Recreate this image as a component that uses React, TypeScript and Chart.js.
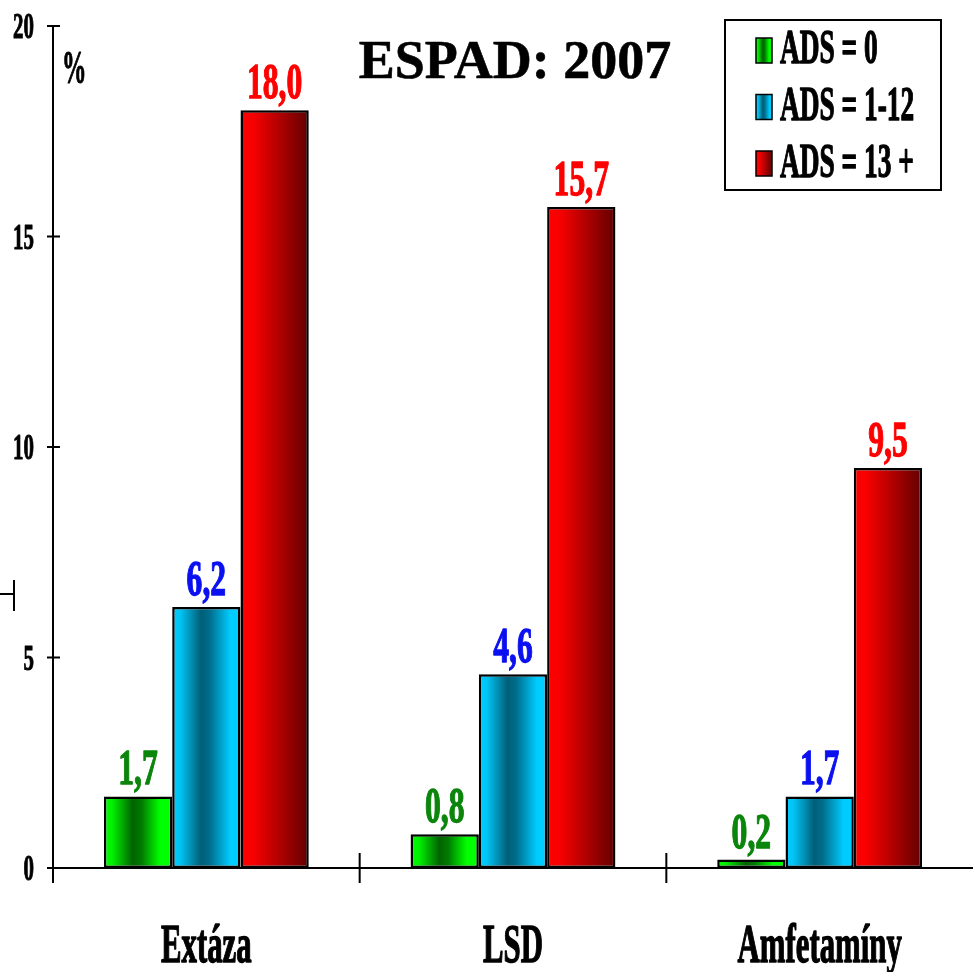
import React, { useEffect, useRef } from 'react';
import { Chart, registerables } from 'chart.js';

Chart.register(...registerables);

const categories = ['Extáza', 'LSD', 'Amfetamíny'];
const seriesNames = ['ADS = 0', 'ADS = 1-12', 'ADS = 13 +'];
const ads0 = [1.7, 0.8, 0.2];
const ads1to12 = [6.2, 4.6, 1.7];
const ads13plus = [18.0, 15.7, 9.5];
const yTicks = [0, 5, 10, 15, 20];
const titleText = 'ESPAD: 2007';
const unitLabel = '%';

const labelColors = ['#0b850b', '#0a10f0', '#ff0000'];
const gradientStops: [number, string][][] = [
  [[0, '#00ff00'], [0.12, '#00f200'], [0.42, '#006400'], [0.55, '#007a00'], [0.82, '#00ff00'], [1, '#00ff00']],
  [[0, '#00ccff'], [0.12, '#00c4f4'], [0.42, '#005f78'], [0.55, '#006e8c'], [0.85, '#00ccff'], [1, '#00ccff']],
  [[0, '#ff0000'], [0.18, '#f80000'], [1, '#620000']],
];

const FONT = "'Liberation Serif', 'Times New Roman', serif";

function drawText(ctx: CanvasRenderingContext2D, text: string, x: number, y: number, size: number, sx: number, align: CanvasTextAlign, color: string, heavy = 1.1) {
  ctx.save();
  ctx.font = `bold ${size}px ${FONT}`;
  ctx.fillStyle = color;
  ctx.strokeStyle = color;
  ctx.lineJoin = 'round';
  ctx.textAlign = align;
  ctx.textBaseline = 'alphabetic';
  ctx.translate(x, y);
  ctx.scale(sx, 1);
  ctx.fillText(text, 0, 0);
  if (heavy > 0) {
    ctx.lineWidth = heavy;
    ctx.strokeText(text, 0, 0);
  }
  ctx.restore();
}

function makeGradient(ctx: CanvasRenderingContext2D, x0: number, x1: number, di: number) {
  const g = ctx.createLinearGradient(x0, 0, x1, 0);
  gradientStops[di].forEach(([o, c]) => g.addColorStop(o, c));
  return g;
}

const fmt = (v: number) => v.toFixed(1).replace('.', ',');

const decorPlugin = {
  id: 'decor',
  beforeDatasetsDraw(chart: any) {
    const ctx = chart.ctx as CanvasRenderingContext2D;
    chart.data.datasets.forEach((_ds: any, di: number) => {
      const meta = chart.getDatasetMeta(di);
      meta.data.forEach((el: any) => {
        const { x, width } = el.getProps(['x', 'width'], true);
        el.options = Object.assign({}, el.options, {
          backgroundColor: makeGradient(ctx, x - width / 2, x + width / 2, di),
        });
      });
    });
  },
  afterDraw(chart: any) {
    const ctx = chart.ctx as CanvasRenderingContext2D;
    const { left, right, top, bottom } = chart.chartArea;
    const xs = chart.scales.x;
    const ys = chart.scales.y;

    ctx.save();
    ctx.strokeStyle = '#000';
    ctx.lineWidth = 2;
    ctx.beginPath();
    ctx.moveTo(left, top);
    ctx.lineTo(left, bottom + 15);
    ctx.moveTo(left - 6, bottom);
    ctx.lineTo(right, bottom);
    yTicks.forEach((t) => {
      const y = ys.getPixelForValue(t);
      ctx.moveTo(left - 6, y);
      ctx.lineTo(left + 7, y);
    });
    for (let i = 0; i < categories.length - 1; i++) {
      const x = xs.getPixelForValue(i + 0.5);
      ctx.moveTo(x, bottom - 15);
      ctx.lineTo(x, bottom + 15);
    }
    ctx.moveTo(0, 594);
    ctx.lineTo(14, 594);
    ctx.moveTo(14, 580);
    ctx.lineTo(14, 611);
    ctx.stroke();
    ctx.restore();

    yTicks.forEach((t) => {
      const y = ys.getPixelForValue(t);
      drawText(ctx, String(t), left - 19, y + 12, 36, 0.58, 'right', '#000');
    });
    drawText(ctx, unitLabel, left + 9, top + 57, 46, 0.53, 'left', '#000');

    categories.forEach((c, i) => {
      drawText(ctx, c, xs.getPixelForValue(i), bottom + 94, 55, 0.56, 'center', '#000', 1.4);
    });

    chart.data.datasets.forEach((ds: any, di: number) => {
      const meta = chart.getDatasetMeta(di);
      meta.data.forEach((el: any, i: number) => {
        const { x, y } = el.getProps(['x', 'y'], true);
        drawText(ctx, fmt(ds.data[i]), x, y - 12, 51, 0.62, 'center', labelColors[di], 1.3);
      });
    });

    drawText(ctx, titleText, 515, 78, 54, 1, 'center', '#000', 0.6);

    ctx.save();
    ctx.fillStyle = '#fff';
    ctx.fillRect(725, 20, 216, 170);
    ctx.strokeStyle = '#000';
    ctx.lineWidth = 2;
    ctx.strokeRect(725, 20, 216, 170);
    ctx.restore();
    seriesNames.forEach((name, i) => {
      const sy = 38 + i * 56.5;
      ctx.save();
      ctx.fillStyle = makeGradient(ctx, 756, 772, i);
      ctx.fillRect(756, sy, 16, 25);
      ctx.strokeStyle = '#000';
      ctx.lineWidth = 1.5;
      ctx.strokeRect(756, sy, 16, 25);
      ctx.restore();
      drawText(ctx, name, 780, 63 + i * 57, 48, 0.57, 'left', '#000', 1.3);
    });
  },
};

export default function App() {
  const ref = useRef<HTMLCanvasElement>(null);
  useEffect(() => {
    const datasetsData = [ads0, ads1to12, ads13plus];
    const chart = new Chart(ref.current!, {
      type: 'bar',
      data: {
        labels: categories,
        datasets: datasetsData.map((d, i) => ({
          label: seriesNames[i],
          data: d,
          backgroundColor: '#888',
          borderColor: '#000',
          borderWidth: 2.5,
          borderSkipped: false,
          categoryPercentage: 0.668,
          barPercentage: 1,
        })),
      },
      options: {
        responsive: false,
        animation: false,
        devicePixelRatio: 1,
        layout: { padding: { left: 53, top: 26, right: 0, bottom: 104 } },
        plugins: {
          legend: { display: false },
          title: { display: false },
          tooltip: { enabled: false },
        },
        scales: {
          x: { display: false, offset: true },
          y: { display: false, min: 0, max: 20 },
        },
      },
      plugins: [decorPlugin],
    });
    return () => chart.destroy();
  }, []);
  return (
    <div style={{ position: 'absolute', left: 0, top: 0, width: 973, height: 972, background: '#fff' }}>
      <canvas ref={ref} width={973} height={972} style={{ display: 'block' }} />
    </div>
  );
}
